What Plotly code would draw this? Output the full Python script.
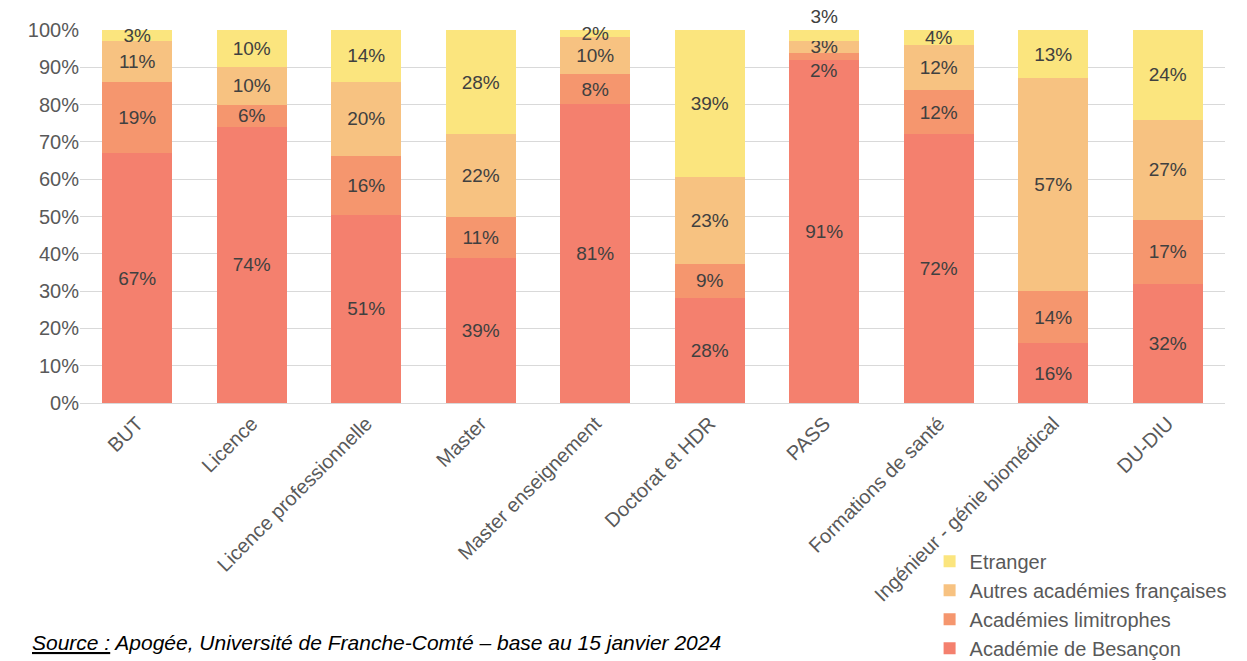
import plotly.graph_objects as go

categories = ["BUT", "Licence", "Licence professionnelle", "Master", "Master enseignement",
              "Doctorat et HDR", "PASS", "Formations de santé", "Ingénieur - génie biomédical", "DU-DIU"]
besancon = [67, 74, 51, 39, 81, 28, 91, 72, 16, 32]
limitrophes = [19, 6, 16, 11, 8, 9, 2, 12, 14, 17]
autres = [11, 10, 20, 22, 10, 23, 3, 12, 57, 27]
etranger = [3, 10, 14, 28, 2, 39, 3, 4, 13, 24]

series = [
    ("Académie de Besançon", besancon, "#F4806E"),
    ("Académies limitrophes", limitrophes, "#F5966E"),
    ("Autres académies françaises", autres, "#F7C281"),
    ("Etranger", etranger, "#FBE57E"),
]

FONT = "Liberation Sans, Arial, sans-serif"
LABEL_COLOR = "#404040"
crowded = "PASS"  # category whose thin limitrophes label is drawn just below its segment

fig = go.Figure()
for name, vals, col in series:
    if name == "Etranger":
        tpos = ["outside" if c == crowded else "inside" for c in categories]
    else:
        tpos = "inside"
    if name == "Académies limitrophes":
        texts = ["" if c == crowded else f"{v}%" for c, v in zip(categories, vals)]
    else:
        texts = [f"{v}%" for v in vals]
    fig.add_trace(go.Bar(
        x=categories, y=vals, name=name, marker=dict(color=col, line=dict(width=0)),
        text=texts, texttemplate="%{text}", textposition=tpos,
        insidetextanchor="middle", constraintext="none", cliponaxis=False,
        textfont=dict(color=LABEL_COLOR, size=19, family=FONT),
        outsidetextfont=dict(color=LABEL_COLOR, size=19, family=FONT),
        hoverinfo="skip",
    ))

i = categories.index(crowded)
annotations = [
    dict(text=f"{limitrophes[i]}%", x=crowded, y=besancon[i], xref="x", yref="y",
         yanchor="top", showarrow=False, yshift=6,
         font=dict(color=LABEL_COLOR, size=19, family=FONT)),
    dict(text="<i><u>Source :</u> Apogée, Université de Franche-Comté – base au 15 janvier 2024</i>",
         xref="paper", yref="paper", x=-0.0437, y=-0.641, xanchor="left", yanchor="middle",
         showarrow=False, font=dict(size=21, color="#000000", family=FONT)),
]

fig.update_layout(
    barmode="stack", barnorm="percent", bargap=0.39,
    width=1247, height=661,
    margin=dict(l=80, r=22, t=30, b=258, autoexpand=False),
    plot_bgcolor="white", paper_bgcolor="white",
    font=dict(family=FONT, size=19, color="#595959"),
    uniformtext=dict(minsize=19, mode="show"),
    legend=dict(traceorder="reversed", x=0.742, y=-0.372, xanchor="left", yanchor="top",
                font=dict(size=20, color="#595959"), itemwidth=30, tracegroupgap=0,
                bgcolor="rgba(0,0,0,0)"),
    xaxis=dict(tickangle=-45, showline=True, linecolor="#d9d9d9", linewidth=1, automargin=False,
               tickfont=dict(size=20, color="#595959"), ticks=""),
    yaxis=dict(range=[0, 100], dtick=10, ticksuffix="%", showgrid=True, gridcolor="#d9d9d9",
               gridwidth=1, zeroline=False, automargin=False,
               tickfont=dict(size=20, color="#595959"), ticks=""),
    annotations=annotations,
)

fig.write_html("out.html")
